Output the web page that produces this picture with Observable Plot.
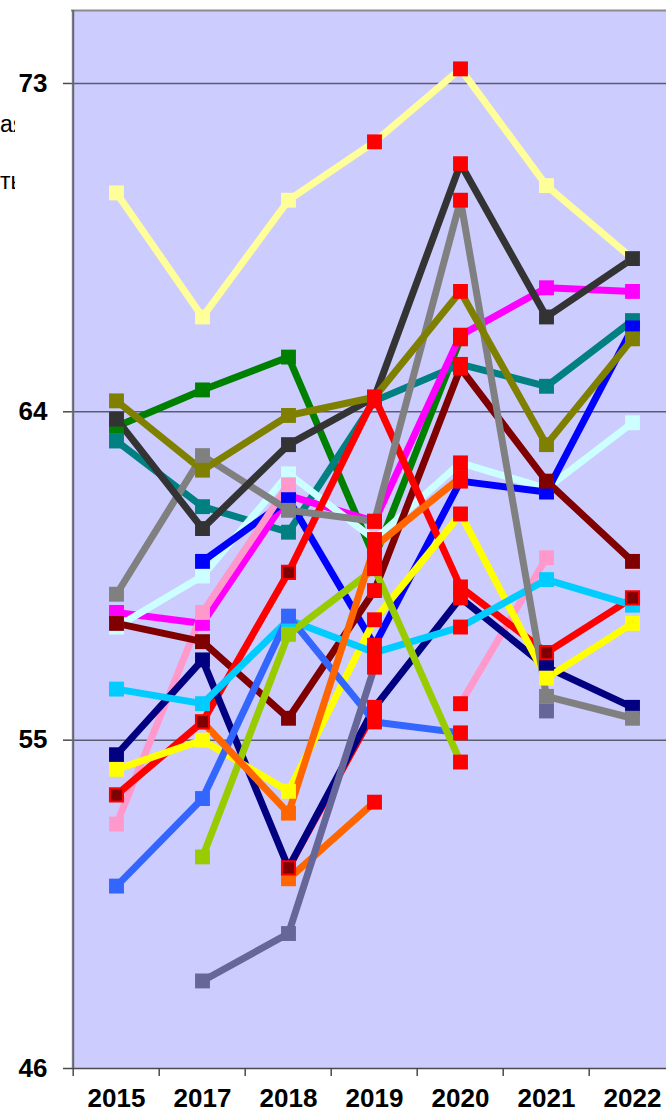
<!DOCTYPE html>
<html><head><meta charset="utf-8">
<script src="https://cdn.jsdelivr.net/npm/d3@7"></script>
<script src="https://cdn.jsdelivr.net/npm/@observablehq/plot@0.6"></script>
<style>
html,body{margin:0;padding:0;background:#fff;}
#wrap{position:relative;width:666px;height:1112px;overflow:hidden;}
#chart{position:absolute;left:0;top:0;}
.frag{position:absolute;left:0;width:15px;overflow:hidden;white-space:nowrap;z-index:2;
  font-family:"Liberation Sans",Arial,sans-serif;font-size:23px;line-height:23px;color:#000;}
</style></head><body>
<div id="wrap">
<div class="frag" style="top:113px">ая</div>
<div class="frag" style="top:170px">ть</div>
<div id="chart"></div>
</div>
<script>
const years = ["2015","2017","2018","2019","2020","2021","2022"];
const yTicks = [46, 55, 64, 73];
const gridValues = [55, 64, 73];

// series values (null = no data)
const ltYellow = [70.0, 66.6, 69.8, 71.4, 73.4, 70.2, 68.2];
const green    = [63.6, 64.6, 65.5, 60.0, 66.0, null, null];
const teal     = [63.2, 61.4, 60.7, 64.3, 65.3, 64.7, 66.5];
const magenta  = [58.5, 58.2, 61.7, 61.0, 66.1, 67.4, 67.3];
const ltCyan   = [58.1, 59.5, 62.3, 60.5, 62.6, 61.9, 63.7];
const blue     = [null, 59.9, 61.6, 57.6, 62.1, 61.8, 66.3];
const pink     = [52.7, 58.5, 62.0, null, 56.0, 60.0, null];
const maroon   = [58.2, 57.7, 55.6, 59.1, 65.2, 62.1, 59.9];
const red      = [53.5, 55.5, 59.6, 64.4, 59.2, 57.4, 58.9];
const red2     = [null, null, 51.5, 55.8, null, null, null];
const navy     = [54.6, 57.2, 51.5, 55.9, 58.9, 57.0, 55.9];
const yellow   = [54.2, 55.0, 53.6, 58.3, 61.2, 56.7, 58.2];
const sky      = [56.4, 56.0, 58.3, 57.4, 58.1, 59.4, 58.7];
const royal    = [51.0, 53.4, 58.4, 55.5, 55.2, null, null];
const ygreen   = [null, 51.8, 57.9, 59.7, 54.4, null, null];
const orange   = [null, 55.5, 53.0, 60.3, 62.2, null, null];
const orangeB  = [null, null, 51.2, 53.3, null, null, null];
const slate    = [null, 48.4, 49.7, 57.0, null, 55.8, null];
const gray     = [59.0, 62.8, 61.3, 61.0, 69.8, 56.2, 55.6];
const darkGray = [63.8, 60.8, 63.1, 64.4, 70.8, 66.6, 68.2];
const olive    = [64.3, 62.4, 63.9, 64.4, 67.3, 63.1, 66.0];

const seriesNames  = ["ltYellow","green","teal","magenta","ltCyan","blue","pink","maroon","red","red2","navy","yellow","sky","royal","ygreen","orange","orangeB","slate","gray","darkGray","olive"];
const seriesValues = [ltYellow, green, teal, magenta, ltCyan, blue, pink, maroon, red, red2, navy, yellow, sky, royal, ygreen, orange, orangeB, slate, gray, darkGray, olive];
const seriesColors = ["#FFFF99","#008000","#008080","#FF00FF","#CCFFFF","#0000FF","#FF99CC","#800000","#FF0000","#FF0000","#000080","#FFFF00","#00CCFF","#3366FF","#99CC00","#FF6600","#FF6600","#666699","#808080","#333333","#808000"];
const highlightYears = ["2019","2020"];
const darkMarkerSeries = ["red","red2"];

const rows = [];
seriesNames.forEach((name, si) => {
  seriesValues[si].forEach((v, i) => {
    rows.push({series: name, year: years[i], value: v == null ? NaN : v});
  });
});
const pts = rows.filter(d => !isNaN(d.value));
const normalPts = pts.filter(d => !highlightYears.includes(d.year) && !darkMarkerSeries.includes(d.series));
const darkPts = pts.filter(d => !highlightYears.includes(d.year) && darkMarkerSeries.includes(d.series));
const redPts = pts.filter(d => highlightYears.includes(d.year));

const font = '"Liberation Sans", Arial, sans-serif';
const markerR = 8.4;

const chart = Plot.plot({
  width: 666,
  height: 1112,
  marginLeft: 71,
  marginRight: 0,
  marginTop: 10,
  marginBottom: 44,
  style: {fontFamily: font, background: "transparent", color: "#000"},
  x: {type: "point", domain: years, range: [114.4, 634.4], padding: 0, label: null},
  y: {domain: [46, 75], label: null},
  color: {domain: seriesNames, range: seriesColors},
  marks: [
    Plot.frame({fill: "#CCCCFF", stroke: null}),
    Plot.ruleY(gridValues, {stroke: "#5c5c70", strokeWidth: 1.5}),
    Plot.ruleY([75], {stroke: "#8c8c8c", strokeWidth: 2}),
    Plot.ruleY([46], {stroke: "#4a4a4a", strokeWidth: 1.5}),
    Plot.ruleX([years[0]], {y1: 46, y2: 75, dx: -43.3, stroke: "#666", strokeWidth: 2}),
    Plot.ruleX(years, {y1: 46, y2: 46, insetBottom: -8, dx: -43.3, stroke: "#4a4a4a", strokeWidth: 1.5}),
    Plot.axisY({ticks: yTicks, tickSize: 8, tickPadding: 16, fontSize: 26, fontWeight: "bold", stroke: "#4a4a4a", strokeWidth: 1.5, label: null}),
    Plot.axisX({tickSize: 0, tickPadding: 20, fontSize: 26, fontWeight: "bold", label: null}),
    Plot.line(rows, {x: "year", y: "value", z: "series", stroke: "series", strokeWidth: 7, strokeLinejoin: "round"}),
    Plot.dot(normalPts, {x: "year", y: "value", fill: "series", symbol: "square", r: markerR}),
    Plot.dot(darkPts, {x: "year", y: "value", fill: "#800000", stroke: "#FF0000", strokeWidth: 2, symbol: "square", r: markerR - 1}),
    Plot.dot(redPts, {x: "year", y: "value", fill: "#FF0000", symbol: "square", r: markerR})
  ]
});
document.getElementById("chart").appendChild(chart);
</script>
</body></html>
